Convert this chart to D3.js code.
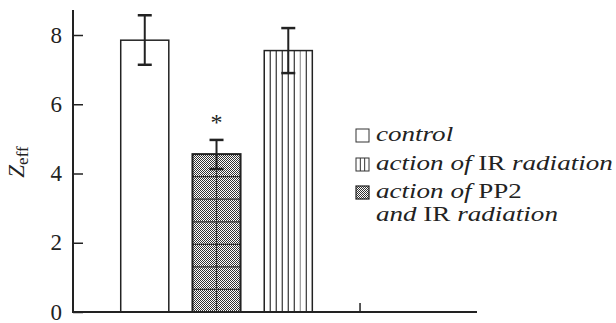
<!DOCTYPE html>
<html><head><meta charset="utf-8">
<script src="https://cdn.jsdelivr.net/npm/d3@7"></script>
<style>body{margin:0;background:#fff}svg{display:block}</style>
</head><body>
<svg id="c" width="616" height="323"></svg>
<script>
const categories = ["control", "action of PP2 and IR radiation", "action of IR radiation"];
const values = [7.85, 4.56, 7.55];
const errLow = [7.14, 4.13, 6.9];
const errHigh = [8.57, 4.97, 8.2];
const significant = [false, true, false];
const yTicks = [0, 2, 4, 6, 8];
const patterns = ["none", "grid", "stripes"];

const svg = d3.select("#c");
const font = "Liberation Serif";
const y = d3.scaleLinear().domain([0, 8]).range([312, 35]);
const x = d3.scaleLinear().domain([0, 5.63]).range([73, 477]);
const bw = 0.67;

const defs = svg.append("defs");
const dot = defs.append("pattern").attr("id","dots").attr("patternUnits","userSpaceOnUse").attr("width",2).attr("height",2);
dot.append("rect").attr("width",2).attr("height",2).attr("fill","#fff");
dot.append("rect").attr("width",1).attr("height",1).attr("fill","#333");
dot.append("rect").attr("x",1).attr("y",1).attr("width",1).attr("height",1).attr("fill","#333");

const g = svg.append("g");
categories.forEach((c, i) => {
  const x0 = x(i + 1 - bw/2), x1 = x(i + 1 + bw/2);
  const yt = y(values[i]), yb = y(0);
  const w = x1 - x0, h = yb - yt;
  if (patterns[i] === "grid") {
    g.append("rect").attr("x",x0).attr("y",yt).attr("width",w).attr("height",h).attr("fill","url(#dots)");
    const n = 7;
    for (let k = 1; k < n; k++) {
      const yy = yb - h*k/n;
      g.append("line").attr("x1",x0).attr("x2",x1).attr("y1",yy).attr("y2",yy).attr("stroke","#333").attr("stroke-width",1.2);
    }
    g.append("line").attr("x1",(x0+x1)/2).attr("x2",(x0+x1)/2).attr("y1",yt).attr("y2",yb).attr("stroke","#333").attr("stroke-width",1.2);
    g.append("rect").attr("x",x0).attr("y",yt).attr("width",w).attr("height",h).attr("fill","none").attr("stroke","#222").attr("stroke-width",2);
  } else if (patterns[i] === "stripes") {
    g.append("rect").attr("x",x0).attr("y",yt).attr("width",w).attr("height",h).attr("fill","#fff");
    const n = 8;
    for (let k = 1; k < n; k++) {
      const xx = x0 + w*k/n;
      g.append("line").attr("x1",xx).attr("x2",xx).attr("y1",yt).attr("y2",yb).attr("stroke", k===6 ? "#999" : "#333").attr("stroke-width",1.2);
    }
    g.append("rect").attr("x",x0).attr("y",yt).attr("width",w).attr("height",h).attr("fill","none").attr("stroke","#222").attr("stroke-width",1.5);
  } else {
    g.append("rect").attr("x",x0).attr("y",yt).attr("width",w).attr("height",h).attr("fill","#fff").attr("stroke","#222").attr("stroke-width",1.5);
  }
  const cx = x(i + 1);
  g.append("line").attr("x1",cx).attr("x2",cx).attr("y1",y(errHigh[i])).attr("y2",y(errLow[i])).attr("stroke","#222").attr("stroke-width",2);
  [errHigh[i], errLow[i]].forEach(v => {
    g.append("line").attr("x1",cx-7).attr("x2",cx+7).attr("y1",y(v)).attr("y2",y(v)).attr("stroke","#222").attr("stroke-width",2.5);
  });
  if (significant[i]) {
    g.append("text").attr("x",cx).attr("y",y(errHigh[i]) - 10).attr("text-anchor","middle")
      .style("font-family",font).attr("font-size",24).attr("fill","#222").text("*");
  }
});

// axes
const yAxis = d3.axisRight(y).tickValues(yTicks).tickSize(10).tickFormat("");
const ya = svg.append("g").attr("transform","translate(73,0)").call(yAxis);
ya.select(".domain").remove();
ya.selectAll(".tick line").attr("stroke","#222").attr("stroke-width",1.5);
svg.append("line").attr("x1",73).attr("x2",73).attr("y1",10).attr("y2",313).attr("stroke","#222").attr("stroke-width",2);
svg.append("line").attr("x1",72).attr("x2",x.range()[1]).attr("y1",312).attr("y2",312).attr("stroke","#222").attr("stroke-width",2);
svg.append("line").attr("x1",x(4)).attr("x2",x(4)).attr("y1",312).attr("y2",303).attr("stroke","#222").attr("stroke-width",1.5);

svg.selectAll(".ylab").data(yTicks).enter().append("text")
  .attr("x",62).attr("y",d=>y(d)+7.5).attr("text-anchor","end")
  .style("font-family",font).attr("font-size",23).attr("fill","#222").text(d=>d);

const yl = svg.append("text").attr("transform","translate(24,162) rotate(-90)").attr("text-anchor","middle")
  .style("font-family",font).attr("font-size",23).attr("fill","#222");
yl.append("tspan").attr("font-style","italic").text("Z");
yl.append("tspan").attr("font-size",17).attr("dy",4).text("eff");

// legend
const lx = 356, tx = 376, stretch = 1.23, fs = 22;
const legendRows = [
  {pat:"none", lines:[[["control",true]]], base:141},
  {pat:"stripes", lines:[[["action of ",true],["IR ",false],["radiation",true]]], base:170},
  {pat:"grid", lines:[[["action of ",true],["PP2",false]],[["and ",true],["IR ",false],["radiation",true]]], base:198}
];
legendRows.forEach(r => {
  const sq = 13;
  const sy = r.base - 12;
  if (r.pat === "grid") {
    svg.append("rect").attr("x",lx).attr("y",sy).attr("width",sq).attr("height",sq).attr("fill","url(#dots)").attr("stroke","#222").attr("stroke-width",1.2);
  } else {
    svg.append("rect").attr("x",lx).attr("y",sy).attr("width",sq).attr("height",sq).attr("fill","#fff").attr("stroke","#333").attr("stroke-width",1);
    if (r.pat === "stripes") {
      [1,2].forEach(k => svg.append("line").attr("x1",lx+sq*k/3).attr("x2",lx+sq*k/3).attr("y1",sy).attr("y2",sy+sq).attr("stroke","#333").attr("stroke-width",1));
    }
  }
  r.lines.forEach((ln, li) => {
    const t = svg.append("text").attr("transform",`translate(${tx},${r.base + li*23}) scale(${stretch},1)`)
      .style("font-family",font).attr("font-size",fs).attr("fill","#222");
    ln.forEach(([s,it]) => t.append("tspan").attr("font-style", it ? "italic" : "normal").text(s));
  });
});
</script>
</body></html>
